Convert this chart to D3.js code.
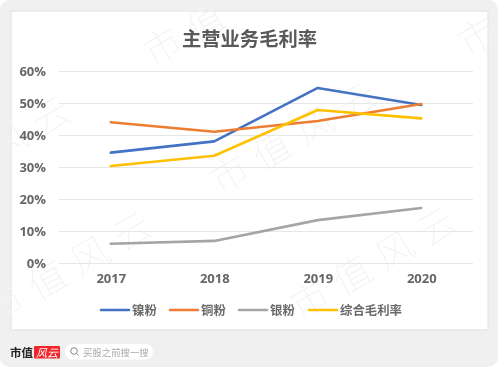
<!DOCTYPE html>
<html>
<head>
<meta charset="utf-8">
<script src="https://cdn.jsdelivr.net/npm/d3@7/dist/d3.min.js"></script>
<style>
html, body { margin: 0; padding: 0; background: #fff; overflow: hidden; }
svg { display: block; filter: blur(0.5px); }
text { font-family: "Open Sans", "Noto Sans CJK SC", sans-serif; }
</style>
</head>
<body>
<svg id="drawing_region"></svg>
<script>
const years = ['2017', '2018', '2019', '2020'];
const nickel = [34.5, 38, 54.7, 49.4];
const copper = [44, 41, 44.4, 49.7];
const silver = [6, 6.9, 13.4, 17.2];
const overall = [30.3, 33.5, 47.8, 45.2];
const yticks = [0, 10, 20, 30, 40, 50, 60];

const series = [
    { name: '镍粉', values: nickel, color: '#4472c4' },
    { name: '铜粉', values: copper, color: '#ed7d31' },
    { name: '银粉', values: silver, color: '#a5a5a5' },
    { name: '综合毛利率', values: overall, color: '#ffc000' }
];

const width = 499, height = 368;
const svg = d3.select('#drawing_region')
    .attr('width', width)
    .attr('height', height);

// page card and white panel
svg.append('rect').attr('width', width).attr('height', height).attr('fill', '#fff');
svg.append('rect')
    .attr('x', 0).attr('y', 0)
    .attr('width', 498).attr('height', 367)
    .attr('rx', 10)
    .attr('fill', '#f0f0f0');
svg.append('rect')
    .attr('x', 11).attr('y', 11)
    .attr('width', 477).attr('height', 319)
    .attr('fill', '#fff')
    .attr('stroke', '#e4e4e4')
    .attr('stroke-width', 1.2);

// watermark, only the glyphs that show inside the picture
const watermarks = [
    { x: 163, y: 47, from: 0, to: 2 },
    { x: -77, y: 190, from: 2, to: 4 },
    { x: 230, y: 175, from: 0, to: 4 },
    { x: 478, y: 37, from: 0, to: 1 },
    { x: 5, y: 305, from: 0, to: 4 },
    { x: 310, y: 300, from: 0, to: 4 }
];
const mark = Array.from('市值风云');
watermarks.forEach( w => {
    const g = svg.append('g')
        .attr('transform', `translate(${w.x}, ${w.y}) rotate(-30)`);
    g.selectAll('text')
        .data(d3.range(w.from, w.to))
        .enter()
        .append('text')
        .attr('x', i => i * 49)
        .attr('dy', '0.35em')
        .attr('text-anchor', 'middle')
        .style('font-family', '"Noto Sans CJK SC"')
        .style('font-weight', 100)
        .style('font-size', '38px')
        .attr('fill', '#f3f3f3')
        .text( i => mark[i] );
});

const margin = { left: 59, right: 26, top: 71, bottom: 105 };
const xscale = d3.scalePoint()
    .domain(years)
    .range([margin.left, width - margin.right])
    .padding(0.5);
const yscale = d3.scaleLinear()
    .domain([0, 60])
    .range([height - margin.bottom, margin.top]);

// y axis with gridlines
const yaxis_group = svg.append('g')
    .attr('transform', `translate(${margin.left}, 0)`)
    .call( d3.axisLeft(yscale)
        .tickValues(yticks)
        .tickFormat( d => d + '%' )
        .tickSize(-(width - margin.left - margin.right))
        .tickPadding(13) );
yaxis_group.select('.domain').remove();
yaxis_group.selectAll('line').attr('stroke', '#e6e6e6').attr('stroke-width', 1.2);
yaxis_group.selectAll('text')
    .style('font-family', '"Open Sans"')
    .style('font-size', '13px')
    .style('font-weight', 'bold')
    .attr('fill', '#666');

// x axis
const xaxis_group = svg.append('g')
    .attr('transform', `translate(0, ${height - margin.bottom})`)
    .call( d3.axisBottom(xscale).tickSize(0).tickPadding(11) );
xaxis_group.select('.domain').remove();
xaxis_group.selectAll('text')
    .style('font-family', '"Open Sans"')
    .style('font-size', '13px')
    .style('font-weight', 'bold')
    .attr('fill', '#666');

// lines
const line = d3.line()
    .x( (d, i) => xscale(years[i]) )
    .y( d => yscale(d) );
svg.selectAll('.series')
    .data(series)
    .enter()
    .append('path')
    .attr('class', 'series')
    .attr('d', d => line(d.values))
    .attr('fill', 'none')
    .attr('stroke', d => d.color)
    .attr('stroke-width', 2.6)
    .attr('stroke-linecap', 'round')
    .attr('stroke-linejoin', 'round');

// title
svg.append('text')
    .attr('x', 249.5)
    .attr('y', 46)
    .attr('text-anchor', 'middle')
    .style('font-family', '"Noto Sans CJK SC"')
    .style('font-size', '19.3px')
    .style('font-weight', 'bold')
    .attr('fill', '#595959')
    .text('主营业务毛利率');

// legend
const legendX = [101, 170, 239, 309];
const legend = svg.selectAll('.legend')
    .data(series)
    .enter()
    .append('g')
    .attr('class', 'legend')
    .attr('transform', (d, i) => `translate(${legendX[i]}, 310)`);
legend.append('line')
    .attr('x1', 0).attr('x2', 28)
    .attr('stroke', d => d.color)
    .attr('stroke-width', 2.6)
    .attr('stroke-linecap', 'round');
legend.append('text')
    .attr('x', 31)
    .attr('y', 4.5)
    .style('font-family', '"Noto Sans CJK SC"')
    .style('font-size', '12.4px')
    .style('font-weight', 'bold')
    .attr('fill', '#6a6a6a')
    .text( d => d.name );

// footer logo and search pill
svg.append('text')
    .attr('x', 10).attr('y', 357)
    .style('font-family', '"Noto Sans CJK SC"')
    .style('font-size', '11.5px')
    .style('font-weight', 'bold')
    .attr('fill', '#222')
    .text('市值');
svg.append('rect')
    .attr('x', 34).attr('y', 346)
    .attr('width', 26).attr('height', 12.5)
    .attr('rx', 1)
    .attr('fill', '#f0262c');
svg.append('text')
    .attr('x', 47).attr('y', 356.5)
    .attr('text-anchor', 'middle')
    .style('font-family', '"Noto Sans CJK SC"')
    .style('font-size', '11px')
    .style('font-style', 'italic')
    .attr('fill', '#fff')
    .text('风云');
svg.append('rect')
    .attr('x', 65).attr('y', 344)
    .attr('width', 88).attr('height', 15.5)
    .attr('rx', 7.7)
    .attr('fill', '#fff');
svg.append('circle')
    .attr('cx', 74).attr('cy', 351)
    .attr('r', 3.3)
    .attr('fill', 'none')
    .attr('stroke', '#888')
    .attr('stroke-width', 1);
svg.append('line')
    .attr('x1', 76.5).attr('y1', 353.5)
    .attr('x2', 78.7).attr('y2', 355.7)
    .attr('stroke', '#888')
    .attr('stroke-width', 1);
svg.append('text')
    .attr('x', 83).attr('y', 355.5)
    .style('font-family', '"Noto Sans CJK SC"')
    .style('font-size', '9.4px')
    .attr('fill', '#aaa')
    .text('买股之前搜一搜');
</script>
</body>
</html>
